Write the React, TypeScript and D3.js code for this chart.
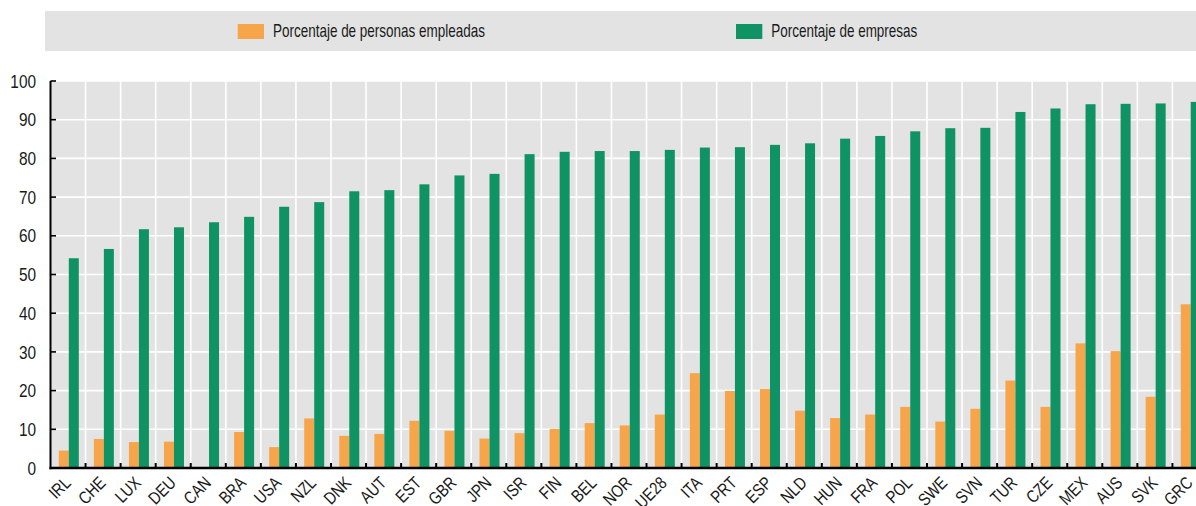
import React from "react";
import * as d3 from "d3";

const categories = ["IRL","CHE","LUX","DEU","CAN","BRA","USA","NZL","DNK","AUT","EST","GBR","JPN","ISR","FIN","BEL","NOR","UE28","ITA","PRT","ESP","NLD","HUN","FRA","POL","SWE","SVN","TUR","CZE","MEX","AUS","SVK","GRC"];
const personas = [4.5,7.5,6.7,6.8,0,9.3,5.4,12.8,8.3,8.8,12.2,9.6,7.6,9.0,10.1,11.6,11.0,13.8,24.5,19.9,20.4,14.8,12.9,13.8,15.8,12.0,15.3,22.6,15.8,32.2,30.2,18.4,42.3];
const empresas = [54.2,56.6,61.7,62.2,63.5,64.9,67.5,68.7,71.5,71.8,73.3,75.6,76.0,81.1,81.7,81.9,81.9,82.2,82.8,82.9,83.5,83.9,85.1,85.8,87.0,87.8,87.9,92.0,92.9,94.0,94.1,94.2,94.6];
const yTicks = [0,10,20,30,40,50,60,70,80,90,100];
const seriesNames = ["Porcentaje de personas empleadas","Porcentaje de empresas"];
const seriesKeys = ["personas","empresas"];
const colors = ["#f7a54a","#0f9364"];

const W = 1196, H = 506;
const FONT = "'Liberation Sans',Arial,sans-serif";

export default function App() {
  const left = 50.5, step = 35.06;
  const x = d3.scaleBand<string>().domain(categories).range([left, left + step * categories.length]).padding(0);
  const xs = d3.scaleBand<string>().domain(seriesKeys).range([8.3, 28.3]).padding(0);
  const y = d3.scaleLinear().domain([0, 100]).range([468, 81]);
  const plotRight = left + step * categories.length;
  const data = categories.map((c, i) => ({ c, personas: personas[i], empresas: empresas[i] }));

  return (
    <svg width={W} height={H} style={{ position: "absolute", left: 0, top: 0, fontFamily: FONT }}>
      {/* legend */}
      <rect x={45} y={11} width={W - 45} height={40} fill="#e2e3e2" />
      {[237.7, 736].map((lx, i) => (
        <g key={i}>
          <rect x={lx} y={24} width={26.3} height={15} fill={colors[i]} />
          <text transform={`translate(${lx + 35.3},37.3) scale(0.77,1)`} fontSize={17.5} fill="#1a1a1a">{seriesNames[i]}</text>
        </g>
      ))}
      {/* plot background */}
      <rect x={left} y={y(100)} width={plotRight - left} height={y(0) - y(100)} fill="#e2e3e2" />
      {yTicks.map(t => (
        <line key={"hg" + t} x1={left} x2={plotRight} y1={y(t)} y2={y(t)} stroke="#fff" strokeWidth={1.6} />
      ))}
      {categories.slice(1).map(c => (
        <line key={"vg" + c} x1={x(c)!} x2={x(c)!} y1={y(100)} y2={y(0)} stroke="#fff" strokeWidth={1.6} />
      ))}
      {/* bars */}
      {data.map(d => (
        <g key={d.c} transform={`translate(${x(d.c)},0)`}>
          {seriesKeys.map((k, i) => {
            const v = (d as any)[k] as number;
            if (!v) return null;
            return <rect key={k} x={xs(k)!} y={y(v)} width={xs.bandwidth()} height={y(0) - y(v)} fill={colors[i]} />;
          })}
        </g>
      ))}
      {/* y ticks and labels */}
      {yTicks.map(t => (
        <g key={"yt" + t}>
          <line x1={left} x2={left + 5.5} y1={y(t)} y2={y(t)} stroke="#000" strokeWidth={1.6} />
          <text transform={`translate(36,${y(t) + 6.6}) scale(0.88,1)`} textAnchor="end" fontSize={17.5} fill="#1a1a1a">{t}</text>
        </g>
      ))}
      {/* x ticks */}
      {categories.slice(1).map(c => (
        <line key={"xt" + c} x1={x(c)!} x2={x(c)!} y1={y(0) - 5} y2={y(0)} stroke="#000" strokeWidth={2} />
      ))}
      <line x1={left} x2={left} y1={y(100)} y2={y(0) + 1.2} stroke="#000" strokeWidth={2} />
      <line x1={left - 1} x2={plotRight} y1={y(0)} y2={y(0)} stroke="#000" strokeWidth={2.6} />
      {/* x labels */}
      {categories.map(c => {
        const cx = x(c)! + x.bandwidth() / 2 + 3.8;
        return (
          <text key={"xl" + c} transform={`translate(${cx},${484}) rotate(-45) scale(0.82,1)`} textAnchor="end" fontSize={17.5} fill="#1a1a1a">{c}</text>
        );
      })}
    </svg>
  );
}
